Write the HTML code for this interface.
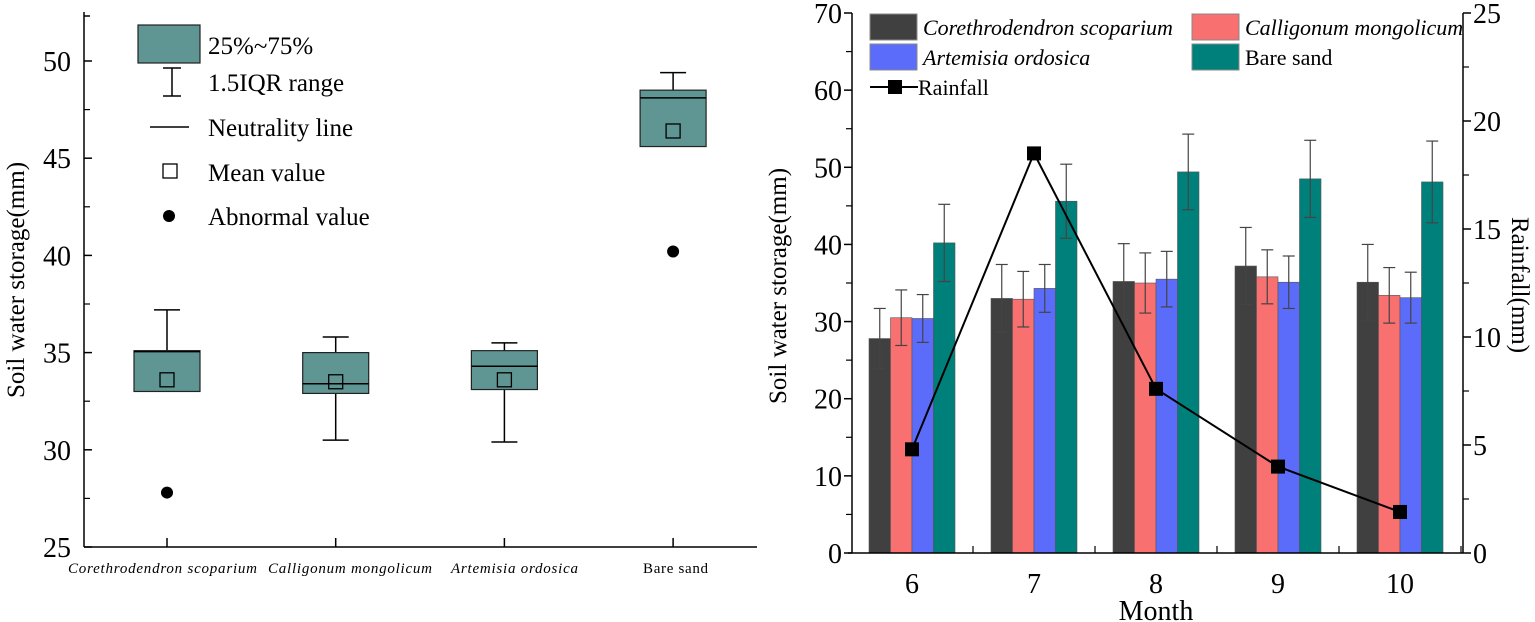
<!DOCTYPE html>
<html><head><meta charset="utf-8"><style>
body{margin:0;background:#fff;}
svg{display:block;font-family:"Liberation Serif",serif;}
</style></head><body>
<svg width="1535" height="622" viewBox="0 0 1535 622" xmlns="http://www.w3.org/2000/svg">
<g id="left"></g>
<g id="right"></g>
</svg>
<script>
// ---- Box plot data ----
const boxCats = ["Corethrodendron scoparium","Calligonum mongolicum","Artemisia ordosica","Bare sand"];
const boxQ1 = [33.0, 32.9, 33.1, 45.6];
const boxQ3 = [35.1, 35.0, 35.1, 48.5];
const boxMedian = [35.05, 33.4, 34.3, 48.1];
const boxMean = [33.6, 33.5, 33.6, 46.4];
const boxWhiskLo = [33.0, 30.5, 30.4, 45.6];
const boxWhiskHi = [37.2, 35.8, 35.5, 49.4];
const boxOutliers = [27.8, null, null, 40.2];
const boxTicks = [25,30,35,40,45,50];
// ---- Bar chart data ----
const months = ["6","7","8","9","10"];
const seriesNames = ["Corethrodendron scoparium","Calligonum mongolicum","Artemisia ordosica","Bare sand"];
const csVals = [27.8, 33.0, 35.2, 37.2, 35.1];
const cmVals = [30.5, 32.9, 35.0, 35.8, 33.4];
const aoVals = [30.4, 34.3, 35.5, 35.1, 33.1];
const bsVals = [40.2, 45.6, 49.4, 48.5, 48.1];
const csErr = [3.9, 4.4, 4.9, 5.0, 4.9];
const cmErr = [3.6, 3.6, 3.9, 3.5, 3.6];
const aoErr = [3.1, 3.1, 3.6, 3.4, 3.3];
const bsErr = [5.0, 4.8, 4.9, 5.0, 5.3];
const rainfall = [4.8, 18.5, 7.6, 4.0, 1.9];
const leftTicks = [0,10,20,30,40,50,60,70];
const rightTicks = [0,5,10,15,20,25];

const NS="http://www.w3.org/2000/svg";
function mk(parent,tag,attrs,text){const e=document.createElementNS(NS,tag);for(const k in attrs)e.setAttribute(k,attrs[k]);if(text!==undefined)e.textContent=text;parent.appendChild(e);return e;}

// ===== Left box plot =====
const L=document.getElementById('left');
const ly=v=>547-(v-25)*97.2/5;
const lx=i=>167+i*168.7;
let e;
e=mk(L,'line',{x1:84,y1:12,x2:84,y2:547,stroke:'#000','stroke-width':1.5});

e=mk(L,'line',{x1:84,y1:547,x2:757,y2:547,stroke:'#000','stroke-width':1.5});

mk(L,'line',{x1:84,y1:16,x2:90,y2:16,stroke:'#000','stroke-width':1.5});
boxTicks.forEach(t=>{
  mk(L,'line',{x1:84,y1:ly(t),x2:92,y2:ly(t),stroke:'#000','stroke-width':1.5});
  if(t<50) mk(L,'line',{x1:84,y1:ly(t+2.5),x2:90,y2:ly(t+2.5),stroke:'#000','stroke-width':1.2});
  e=mk(L,'text',{x:71,y:ly(t)+10,'text-anchor':'end','font-size':28},String(t));
  
});
e=mk(L,'text',{x:0,y:0,transform:'translate(24,280) rotate(-90)','text-anchor':'middle','font-size':25},'Soil water storage(mm)');

const labSpan=[[68,189],[268,164],[451,127],[643,65]];
boxCats.forEach((c,i)=>{
  const x=lx(i),w=66;
  mk(L,'line',{x1:x,y1:547,x2:x,y2:538,stroke:'#000','stroke-width':1.5});
  const g=mk(L,'g',{});
  
  mk(g,'line',{x1:x,y1:ly(boxWhiskHi[i]),x2:x,y2:ly(boxQ3[i]),stroke:'#000','stroke-width':1.5});
  mk(g,'line',{x1:x-13,y1:ly(boxWhiskHi[i]),x2:x+13,y2:ly(boxWhiskHi[i]),stroke:'#000','stroke-width':1.5});
  if(boxWhiskLo[i]<boxQ1[i]){
    mk(g,'line',{x1:x,y1:ly(boxQ1[i]),x2:x,y2:ly(boxWhiskLo[i]),stroke:'#000','stroke-width':1.5});
    mk(g,'line',{x1:x-13,y1:ly(boxWhiskLo[i]),x2:x+13,y2:ly(boxWhiskLo[i]),stroke:'#000','stroke-width':1.5});
  }
  mk(g,'rect',{x:x-w/2,y:ly(boxQ3[i]),width:w,height:ly(boxQ1[i])-ly(boxQ3[i]),fill:'#5f9693',stroke:'#222','stroke-width':1.2});
  mk(g,'line',{x1:x-w/2,y1:ly(boxMedian[i]),x2:x+w/2,y2:ly(boxMedian[i]),stroke:'#000','stroke-width':1.5});
  mk(g,'rect',{x:x-7,y:ly(boxMean[i])-7,width:14,height:14,fill:'none',stroke:'#000','stroke-width':1.3});
  if(boxOutliers[i]!==null){e=mk(g,'circle',{cx:x,cy:ly(boxOutliers[i]),r:6,fill:'#000'});}
  e=mk(L,'text',{x:labSpan[i][0],y:573,'font-size':15,textLength:labSpan[i][1],lengthAdjust:'spacing','font-style':i<3?'italic':'normal'},c);
  
});
// legend
const lg=mk(L,'g',{});
mk(lg,'rect',{x:138,y:25,width:62,height:38,fill:'#5f9693',stroke:'#222','stroke-width':1.2});
mk(lg,'text',{x:208,y:54,'font-size':25},'25%~75%');
mk(lg,'line',{x1:172,y1:68,x2:172,y2:96,stroke:'#000','stroke-width':1.5});
mk(lg,'line',{x1:163,y1:68,x2:181,y2:68,stroke:'#000','stroke-width':1.5});
mk(lg,'line',{x1:163,y1:96,x2:181,y2:96,stroke:'#000','stroke-width':1.5});
mk(lg,'text',{x:208,y:91,'font-size':25},'1.5IQR range');
mk(lg,'line',{x1:150,y1:127,x2:189,y2:127,stroke:'#000','stroke-width':1.5});
mk(lg,'text',{x:208,y:136,'font-size':25},'Neutrality line');
mk(lg,'rect',{x:163,y:164,width:14,height:14,fill:'none',stroke:'#000','stroke-width':1.3});
mk(lg,'text',{x:208,y:181,'font-size':25},'Mean value');
mk(lg,'circle',{cx:169,cy:216,r:6,fill:'#000'});
mk(lg,'text',{x:208,y:225,'font-size':25},'Abnormal value');

// ===== Right bar chart =====
const R=document.getElementById('right');
const X0=852,X1=1463,Y0=553,Y1=13;
const ry=v=>Y0-v*(Y0-Y1)/70;
const ry2=v=>Y0-v*(Y0-Y1)/25;
const rx=i=>912+i*122;
const colors=['#404040','#f87070','#5c6cfa','#00807a'];
const allVals=[csVals,cmVals,aoVals,bsVals], allErr=[csErr,cmErr,aoErr,bsErr];
const bw=21.5;
allVals.forEach((vals,s)=>{
  vals.forEach((v,i)=>{
    const x=rx(i)-2*bw+s*bw;
    e=mk(R,'rect',{x:x,y:ry(v),width:bw,height:ry(0)-ry(v),fill:colors[s],stroke:'#555','stroke-width':0.6});
    
    const cx=x+bw/2,err=allErr[s][i];
    mk(R,'line',{x1:cx,y1:ry(v+err),x2:cx,y2:ry(v-err),stroke:'#444','stroke-width':1.2});
    mk(R,'line',{x1:cx-6,y1:ry(v+err),x2:cx+6,y2:ry(v+err),stroke:'#444','stroke-width':1.2});
    mk(R,'line',{x1:cx-6,y1:ry(v-err),x2:cx+6,y2:ry(v-err),stroke:'#444','stroke-width':1.2});
  });
});
e=mk(R,'polyline',{points:rainfall.map((v,i)=>rx(i)+','+ry2(v)).join(' '),fill:'none',stroke:'#000','stroke-width':2});

rainfall.forEach((v,i)=>{e=mk(R,'rect',{x:rx(i)-7,y:ry2(v)-7,width:14,height:14,fill:'#000'});});
// axes
e=mk(R,'line',{x1:X0,y1:Y1,x2:X0,y2:Y0,stroke:'#000','stroke-width':1.5});
e=mk(R,'line',{x1:X1,y1:Y1,x2:X1,y2:Y0,stroke:'#000','stroke-width':1.5});
e=mk(R,'line',{x1:X0-4,y1:Y0,x2:X1,y2:Y0,stroke:'#000','stroke-width':1.5});
leftTicks.forEach(t=>{
  mk(R,'line',{x1:X0-8,y1:ry(t),x2:X0,y2:ry(t),stroke:'#000','stroke-width':1.5});
  if(t<70) mk(R,'line',{x1:X0-6,y1:ry(t+5),x2:X0,y2:ry(t+5),stroke:'#000','stroke-width':1.2});
  e=mk(R,'text',{x:X0-10,y:ry(t)+10,'text-anchor':'end','font-size':28},String(t));
});
rightTicks.forEach(t=>{
  mk(R,'line',{x1:X1,y1:ry2(t),x2:X1+8,y2:ry2(t),stroke:'#000','stroke-width':1.5});
  if(t<25) mk(R,'line',{x1:X1,y1:ry2(t+2.5),x2:X1+6,y2:ry2(t+2.5),stroke:'#000','stroke-width':1.2});
  e=mk(R,'text',{x:X1+10,y:ry2(t)+10,'font-size':28},String(t));
});
months.forEach((m,i)=>{
  mk(R,'line',{x1:rx(i)+61,y1:Y0,x2:rx(i)+61,y2:Y0-7,stroke:'#000','stroke-width':1.2});
  e=mk(R,'text',{x:rx(i),y:593,'text-anchor':'middle','font-size':28},m);
});
e=mk(R,'text',{x:1156,y:620,'text-anchor':'middle','font-size':28},'Month');
e=mk(R,'text',{x:0,y:0,transform:'translate(786,286) rotate(-90)','text-anchor':'middle','font-size':25},'Soil water storage(mm)');
e=mk(R,'text',{x:0,y:0,transform:'translate(1512,285) rotate(90)','text-anchor':'middle','font-size':25},'Rainfall(mm)');
// legend
const rg=mk(R,'g',{});
const lpos=[[870,14],[1192,14],[870,44],[1192,44]];
seriesNames.forEach((n,s)=>{
  const [x,y]=lpos[s];
  mk(rg,'rect',{x:x,y:y,width:47,height:26,fill:colors[s],stroke:'#888','stroke-width':1});
  mk(rg,'text',{x:x+53,y:y+21,'font-size':22,'font-style':s<3?'italic':'normal'},n);
});
mk(rg,'line',{x1:870,y1:87,x2:918,y2:87,stroke:'#000','stroke-width':2});
mk(rg,'rect',{x:888,y:80,width:14,height:14,fill:'#000'});
mk(rg,'text',{x:918,y:95,'font-size':22},'Rainfall');
</script>
</body></html>
